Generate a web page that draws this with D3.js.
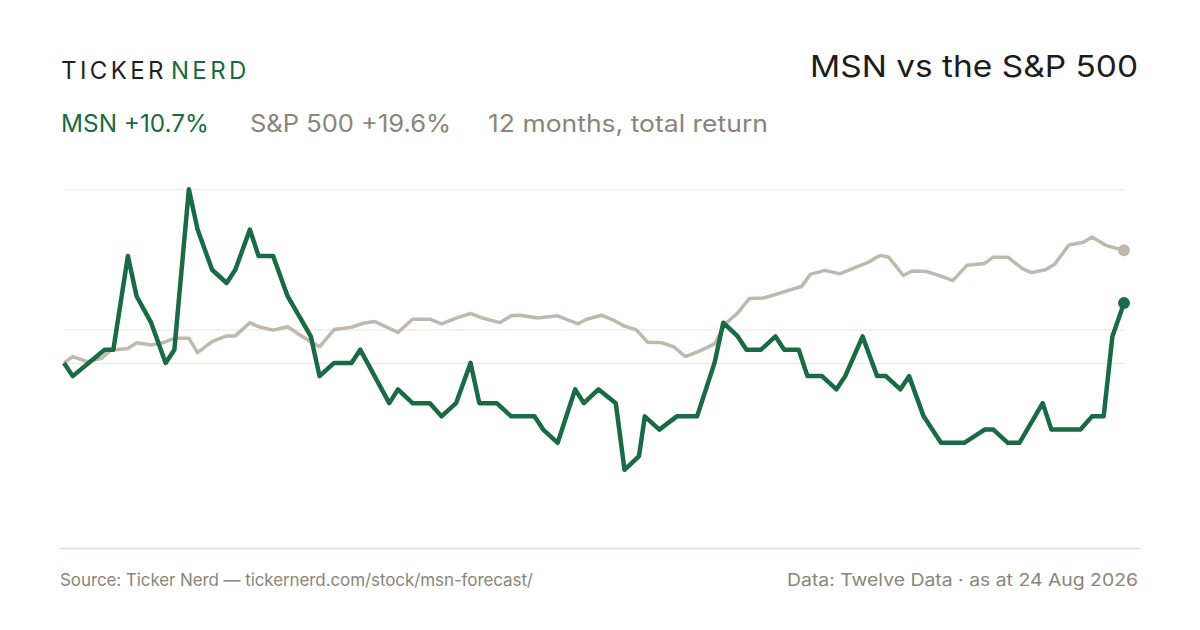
<!DOCTYPE html>
<html>
<head>
<meta charset="utf-8">
<script src="https://cdn.jsdelivr.net/npm/d3@7/dist/d3.min.js"></script>
<style>
  html, body { margin: 0; padding: 0; background: #fff; }
  svg { display: block; font-family: Inter, "Noto Sans", sans-serif; }
</style>
</head>
<body>
<svg id="chart" width="1200" height="630"></svg>
<script>
// 12 months to 24 Aug 2026, cumulative return in %
// days = calendar days since the start date
const startDate = new Date(2025, 7, 24);
const endDate = new Date(2026, 7, 24);

const msnDays = [0,3,14,17,22,25,30,35,38,43, 46,51,56,59,64,67,72,77,85,88,
  93,99,102,112,115,120,126,130,135,140, 143,149,154,162,165,170,176,179,184,190,
  193,198,200,205,211,218,224,227,232,235, 240,245,248,253,256,261,266,269,275,280,
  283,288,291,296,302,310,317,320,325,329, 337,340,350,354,358,361,365];
const msnReturn = [0,-2.3,2.3,2.3,18.6,11.6,7.0,0,2.3,30.2, 23.2,16.2,13.9,16.2,23.2,18.6,18.6,11.6,4.6,-2.3,
  0,0,2.3,-7.0,-4.6,-7.0,-7.0,-9.3,-7.0,0, -7.0,-7.0,-9.3,-9.3,-11.6,-13.9,-4.6,-7.0,-4.6,-7.0,
  -18.6,-16.2,-9.3,-11.6,-9.3,-9.3,0,7.0,4.6,2.3, 2.3,4.6,2.3,2.3,-2.3,-2.3,-4.6,-2.3,4.6,-2.3,
  -2.3,-4.6,-2.3,-9.3,-13.9,-13.9,-11.6,-11.6,-13.9,-13.9, -7.0,-11.6,-11.6,-9.3,-9.3,4.6,10.4];

const spxDays = [0,3,8,13,16,22,25,30,34,38, 43,46,51,56,59,64,67,72,77,82,
  88,93,99,103,107,115,120,126,130,135, 140,144,150,154,157,163,170,177,180,185,
  189,193,197,201,206,210,214,219,224,228, 232,236,241,245,250,254,257,262,267,273,
  276,278,281,284,289,292,297,302,306,311, 317,320,325,330,333,338,341,346,351,354,
  359,365];
const spxReturn = [0,1.1,0.2,0.8,2.2,2.5,3.5,3.1,3.5,4.3, 4.3,1.8,3.7,4.7,4.7,7.0,6.3,5.7,6.3,4.6,
  2.8,5.8,6.2,6.9,7.2,5.3,7.6,7.6,6.8,7.8, 8.6,7.8,7.0,8.2,8.3,7.8,8.2,6.8,7.6,8.3,
  7.5,6.4,5.8,3.6,3.5,2.8,1.1,2.1,3.3,6.9, 8.7,11.2,11.3,11.9,12.7,13.3,15.4,16.1,15.5,16.7,
  17.3,17.8,18.7,18.4,15.2,16.0,15.9,15.1,14.3,17.0, 17.3,18.4,18.4,16.4,15.7,16.2,17.1,20.5,21.0,21.9,
  20.4,19.6];

const yDomain = [-32.2, 30.2];
const gridValues = [0, 5.8, 30.2];

const green = "#1a6a44";
const grey = "#bfb8ad";
const textGrey = "#8a8578";

const svg = d3.select("#chart");

const x = d3.scaleTime().domain([startDate, endDate]).range([64, 1124]);
const y = d3.scaleLinear().domain(yDomain).range([548, 189.3]);

const toPoints = (days, vals) => days.map((d, i) => ({ date: d3.timeDay.offset(startDate, d), v: vals[i] }));
const msn = toPoints(msnDays, msnReturn);
const spx = toPoints(spxDays, spxReturn);

// header
const logo = svg.append("text")
  .attr("x", 61).attr("y", 79)
  .attr("font-size", 24)
  .attr("letter-spacing", 3.4);
logo.append("tspan").attr("fill", "#1f1f1f").text("TICKER");
logo.append("tspan").attr("fill", green).attr("dx", 4).text("NERD");

svg.append("text")
  .attr("x", 1138).attr("y", 77)
  .attr("text-anchor", "end")
  .attr("font-size", 30)
  .attr("fill", "#1c1c1c")
  .attr("textLength", 328).attr("lengthAdjust", "spacingAndGlyphs")
  .text("MSN vs the S&P 500");

svg.append("text").attr("x", 61).attr("y", 132).attr("font-size", 24)
  .attr("textLength", 148).attr("lengthAdjust", "spacingAndGlyphs")
  .attr("fill", green).text("MSN +10.7%");
svg.append("text").attr("x", 250).attr("y", 132).attr("font-size", 24)
  .attr("textLength", 201).attr("lengthAdjust", "spacingAndGlyphs")
  .attr("fill", textGrey).text("S&P 500 +19.6%");
svg.append("text").attr("x", 488).attr("y", 132).attr("font-size", 24)
  .attr("textLength", 280).attr("lengthAdjust", "spacingAndGlyphs")
  .attr("fill", textGrey).text("12 months, total return");

// grid
const yAxis = d3.axisLeft(y).tickValues(gridValues).tickSize(-(1124 - 64)).tickFormat("");
const ga = svg.append("g").attr("transform", "translate(64,0)").call(yAxis);
ga.select(".domain").remove();
ga.selectAll(".tick line").attr("stroke", "#e9e5de").attr("stroke-width", 1);

// bottom rule
svg.append("line")
  .attr("x1", 60).attr("x2", 1140)
  .attr("y1", 548.5).attr("y2", 548.5)
  .attr("stroke", "#e0dbd1").attr("stroke-width", 1.5);

const line = d3.line().x(d => x(d.date)).y(d => y(d.v));

svg.append("path").datum(spx)
  .attr("d", line)
  .attr("fill", "none")
  .attr("stroke", grey)
  .attr("stroke-width", 3.5)
  .attr("stroke-linejoin", "round");

svg.append("path").datum(msn)
  .attr("d", line)
  .attr("fill", "none")
  .attr("stroke", green)
  .attr("stroke-width", 4.5)
  .attr("stroke-linejoin", "round");

const lastSpx = spx[spx.length - 1];
const lastMsn = msn[msn.length - 1];
svg.append("circle").attr("cx", x(lastSpx.date)).attr("cy", y(lastSpx.v)).attr("r", 6).attr("fill", grey);
svg.append("circle").attr("cx", x(lastMsn.date)).attr("cy", y(lastMsn.v)).attr("r", 6).attr("fill", green);

// footer
svg.append("text").attr("x", 60).attr("y", 586).attr("font-size", 17)
  .attr("textLength", 473).attr("lengthAdjust", "spacing")
  .attr("fill", textGrey).text("Source: Ticker Nerd \u2014 tickernerd.com/stock/msn-forecast/");
svg.append("text").attr("x", 1138).attr("y", 586).attr("font-size", 17)
  .attr("text-anchor", "end")
  .attr("textLength", 351).attr("lengthAdjust", "spacingAndGlyphs")
  .attr("fill", textGrey).text("Data: Twelve Data \u00b7 as at 24 Aug 2026");
</script>
</body>
</html>
